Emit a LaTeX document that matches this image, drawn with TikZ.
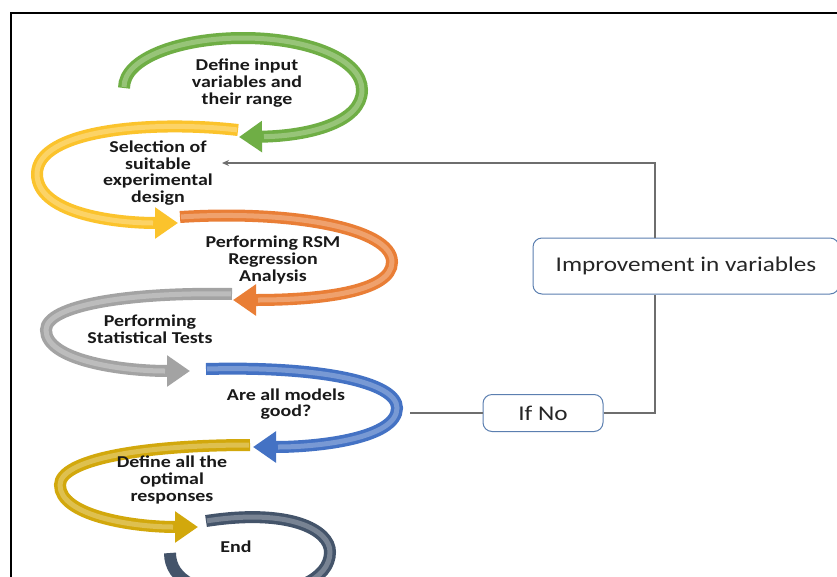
\documentclass[tikz,border=0pt]{standalone}
\usepackage{fontspec}
\newfontfamily\stagefont[FakeStretch=1.2]{Carlito}
\usetikzlibrary{arrows.meta}
\definecolor{ringgreen}{HTML}{6FAE45}
\definecolor{ringyellow}{HTML}{FBC32C}
\definecolor{ringorange}{HTML}{E97E36}
\definecolor{ringgray}{HTML}{A3A3A3}
\definecolor{ringblue}{HTML}{4472C4}
\definecolor{ringgold}{HTML}{D2A80C}
\definecolor{ringnavy}{HTML}{44546A}
\definecolor{tagblue}{HTML}{5B7FB0}
\definecolor{linkgray}{HTML}{6E6E6E}
\newcommand{\swirl}[2]{\draw[band,#1] #2; \draw[gloss] #2;}

\begin{document}
\begin{tikzpicture}[x=1pt,y=-1pt,
  band/.style={line width=12pt, -{Triangle[width=30pt,length=23pt]}},
  gloss/.style={line width=5pt, white, opacity=0.28, shorten >=25pt, shorten <=1pt},
  stage/.style={align=center, text=black!90, font=\stagefont\bfseries\fontsize{16.6}{16.7}\selectfont},
  tag/.style={draw=tagblue, line width=1pt, fill=white, rounded corners=9pt, text=black!85, font=\stagefont\fontsize{21}{24}\selectfont},
  link/.style={draw=linkgray, line width=1.3pt}]
		%%%%% START %%%%%
		\useasboundingbox (0,0) rectangle (837,576);
		\clip (0,0) rectangle (837,576);
		\fill[white] (0,0) rectangle (837,576);
		\draw[line width=2pt] (11,13) rectangle (860,600);
		
		% rings
		\swirl{ringgreen}{(124,88) .. controls (124,58) and (180,38) .. (243,38) .. controls (310,38) and (362,60) .. (362,90) .. controls (362,122) and (310,136) .. (239,137)}
		\swirl{ringyellow}{(238,130) .. controls (150,120) and (37,130) .. (37,174) .. controls (37,212) and (110,223) .. (178,223)}
		\swirl{ringorange}{(180,217) .. controls (290,210) and (392,228) .. (392,262) .. controls (392,292) and (320,300) .. (233,300)}
		\swirl{ringgray}{(232,294) .. controls (130,292) and (46,305) .. (46,330) .. controls (46,360) and (120,371) .. (190,371)}
		\swirl{ringblue}{(206,369) .. controls (320,366) and (397,382) .. (397,408) .. controls (397,438) and (320,447) .. (253,447)}
		\swirl{ringgold}{(250,445) .. controls (140,445) and (60,460) .. (60,485) .. controls (60,515) and (130,527) .. (198,527)}
		\swirl{ringnavy,-}{(206,521) .. controls (290,508) and (330,530) .. (330,552) .. controls (330,580) and (290,595) .. (245,595) .. controls (200,595) and (170,580) .. (170,553)}
		
		% steps
		\node[stage] (define) at (247,83) {Define input\\variables and\\their range};
		\node[stage] (select) at (158,173) {Selection of\\suitable\\experimental\\design};
		\node[stage] (rsm) at (273,260) {Performing RSM\\Regression\\Analysis};
		\node[stage] (tests) at (150,329) {Performing\\Statistical Tests};
		\node[stage] (good) at (286,404) {Are all models\\good?};
		\node[stage] (optimal) at (172,480) {Define all the\\optimal\\responses};
		\node[stage] (finish) at (236,547) {End};
		
		% feedback
		\node[tag, minimum width=120pt, minimum height=37pt] (ifno) at (543,413) {If No};
		\node[tag, minimum width=306pt, minimum height=56pt] (improve) at (686,266) {Improvement in variables};
		\coordinate (goodout) at (410,413);
		\coordinate (turn) at (655,163);
		\coordinate (selectin) at (222,163);
		
		\draw[link] (goodout) -- (ifno.west);
		\draw[link] (ifno.east) -| (improve.south -| turn);
		\draw[link, -{Stealth[length=7pt,width=6pt]}] (improve.north -| turn) |- (selectin);
		%%%%% END %%%%%
\end{tikzpicture}
\end{document}
